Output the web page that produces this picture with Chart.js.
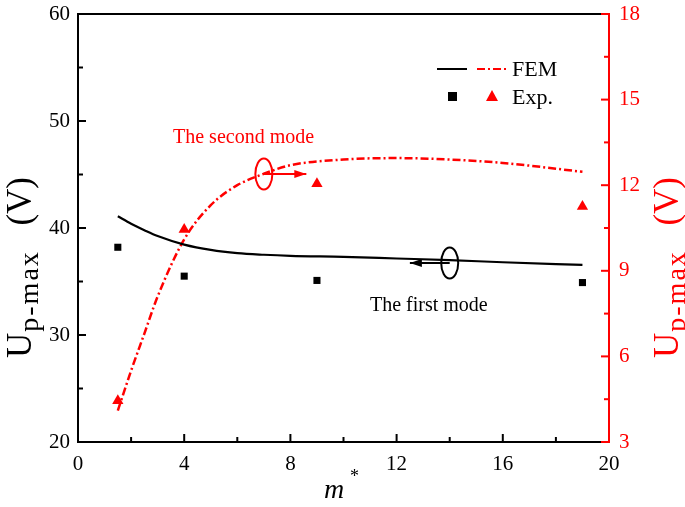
<!DOCTYPE html>
<html>
<head>
<meta charset="utf-8">
<script src="https://cdn.jsdelivr.net/npm/chart.js@4/dist/chart.umd.min.js"></script>
<style>
  html, body { margin: 0; padding: 0; background: #fff; }
  #wrap { width: 685px; height: 507px; position: relative; }
</style>
</head>
<body>
<div id="wrap"><canvas id="chart" width="685" height="507"></canvas></div>
<script>
// FEM curves (m*, voltage)
const xFem = [1.5, 2, 2.5, 3, 4, 5, 6, 7, 8, 10, 12, 14, 16, 19];
const femFirst = [41.1, 40.4, 39.8, 39.25, 38.45, 37.95, 37.65, 37.5, 37.4, 37.3, 37.15, 37.0, 36.8, 36.55];
const femSecond = [4.1, 5.5, 6.8, 8.1, 10.1, 11.3, 12.0, 12.4, 12.7, 12.9, 12.95, 12.9, 12.78, 12.47];

// experiment points
const xExp = [1.5, 4, 9, 19];
const expFirst = [38.2, 35.5, 35.1, 34.9];
const expSecond = [4.45, 10.45, 12.05, 11.25];

// ticks
const xTicks = [0, 4, 8, 12, 16, 20];
const leftTicks = [20, 30, 40, 50, 60];
const rightTicks = [3, 6, 9, 12, 15, 18];

const RED = '#ff0000';
const SERIF = '"Liberation Serif", "DejaVu Serif", serif';

function pts(xs, ys) {
  return xs.map((x, i) => ({ x: x, y: ys[i] }));
}

const decorPlugin = {
  id: 'decor',
  afterDraw(chart) {
    const ctx = chart.ctx;
    const a = chart.chartArea;
    const sx = chart.scales.x, sl = chart.scales.y, sr = chart.scales.y2;
    ctx.save();

    // top frame
    ctx.strokeStyle = '#000';
    ctx.lineWidth = 2;
    ctx.beginPath();
    ctx.moveTo(a.left, a.top);
    ctx.lineTo(a.right, a.top);
    ctx.stroke();

    // inward ticks, major + minor
    function tick(x1, y1, x2, y2, col) {
      ctx.strokeStyle = col;
      ctx.beginPath();
      ctx.moveTo(x1, y1);
      ctx.lineTo(x2, y2);
      ctx.stroke();
    }
    ctx.lineWidth = 2;
    for (let v = 0; v <= 20; v += 2) {
      const px = sx.getPixelForValue(v);
      const len = v % 4 === 0 ? 8 : 5;
      if (v > 0 && v < 20) tick(px, a.bottom, px, a.bottom - len, '#000');
    }
    for (let v = 20; v <= 60; v += 5) {
      const py = sl.getPixelForValue(v);
      const len = v % 10 === 0 ? 8 : 5;
      if (v > 20 && v < 60) tick(a.left, py, a.left + len, py, '#000');
    }
    for (let v = 3; v <= 18; v += 1.5) {
      const py = sr.getPixelForValue(v);
      const len = (v % 3 === 0) ? 8 : 5;
      tick(a.right, py, a.right - len, py, RED);
    }
    tick(a.right - 8, a.bottom, a.right, a.bottom, RED);

    // axis titles (rotated, with subscript)
    function vTitle(cx, bottom, top, col) {
      ctx.save();
      ctx.translate(cx, bottom);
      ctx.rotate(-Math.PI / 2);
      ctx.fillStyle = col;
      ctx.textBaseline = 'alphabetic';
      ctx.textAlign = 'left';
      ctx.font = '35px ' + SERIF;
      ctx.fillText('U', 0, 0);
      const w = ctx.measureText('U').width;
      ctx.font = '28px ' + SERIF;
      ctx.letterSpacing = '2px';
      ctx.fillText('p-max', w + 1, 7);
      ctx.letterSpacing = '0px';
      ctx.font = '35px ' + SERIF;
      ctx.textAlign = 'right';
      ctx.fillText('(V)', bottom - top, 0);
      ctx.restore();
    }
    vTitle(31, 358, 177, '#000');
    vTitle(678, 358, 177, RED);

    ctx.fillStyle = '#000';
    ctx.textAlign = 'left';
    ctx.textBaseline = 'alphabetic';
    ctx.font = 'italic 28px ' + SERIF;
    ctx.fillText('m', 324, 498);
    ctx.font = '18px ' + SERIF;
    ctx.fillText('*', 350, 482);

    // legend
    ctx.lineWidth = 2;
    tick(437, 69, 467, 69, '#000');
    ctx.setLineDash([8, 3, 2, 3]);
    tick(477, 69, 507, 69, RED);
    ctx.setLineDash([]);
    ctx.fillStyle = '#000';
    ctx.fillRect(448, 92, 9, 9);
    ctx.fillStyle = RED;
    ctx.beginPath();
    ctx.moveTo(492, 90);
    ctx.lineTo(498, 101);
    ctx.lineTo(486, 101);
    ctx.closePath();
    ctx.fill();
    ctx.fillStyle = '#000';
    ctx.font = '22px ' + SERIF;
    ctx.fillText('FEM', 512, 76);
    ctx.fillText('Exp.', 512, 104);

    // mode annotations
    function marker(cx, cy, tipX, col) {
      ctx.strokeStyle = col;
      ctx.fillStyle = col;
      ctx.lineWidth = 2;
      ctx.beginPath();
      ctx.ellipse(cx, cy, 8.5, 15.5, 0, 0, Math.PI * 2);
      ctx.stroke();
      ctx.beginPath();
      ctx.moveTo(cx, cy);
      ctx.lineTo(tipX, cy);
      ctx.stroke();
      const d = tipX > cx ? 1 : -1;
      ctx.beginPath();
      ctx.moveTo(tipX, cy);
      ctx.lineTo(tipX - d * 12, cy - 4);
      ctx.lineTo(tipX - d * 12, cy + 4);
      ctx.closePath();
      ctx.fill();
    }
    marker(sx.getPixelForValue(7), 174, sx.getPixelForValue(8.6), RED);
    marker(sx.getPixelForValue(14), 263, sx.getPixelForValue(12.5), '#000');

    ctx.font = '20px ' + SERIF;
    ctx.fillStyle = RED;
    ctx.fillText('The second mode', 173, 143);
    ctx.fillStyle = '#000';
    ctx.fillText('The first mode', 370, 311);

    ctx.restore();
  }
};

new Chart(document.getElementById('chart'), {
  type: 'scatter',
  data: {
    datasets: [
      {
        label: 'FEM first',
        data: pts(xFem, femFirst),
        yAxisID: 'y',
        showLine: true,
        borderColor: '#000',
        borderWidth: 2.2,
        pointRadius: 0,
        cubicInterpolationMode: 'monotone'
      },
      {
        label: 'FEM second',
        data: pts(xFem, femSecond),
        yAxisID: 'y2',
        showLine: true,
        borderColor: RED,
        borderWidth: 2.5,
        borderDash: [8, 3, 2, 3],
        pointRadius: 0,
        cubicInterpolationMode: 'monotone'
      },
      {
        label: 'Exp first',
        data: pts(xExp, expFirst),
        yAxisID: 'y',
        pointStyle: 'rect',
        pointRadius: 5,
        backgroundColor: '#000',
        borderColor: '#000',
        borderWidth: 0
      },
      {
        label: 'Exp second',
        data: pts(xExp, expSecond),
        yAxisID: 'y2',
        pointStyle: 'triangle',
        pointRadius: 6.5,
        backgroundColor: RED,
        borderColor: RED,
        borderWidth: 0
      }
    ]
  },
  options: {
    responsive: false,
    animation: false,
    layout: { padding: { top: 14, left: 0, right: 0, bottom: 0 } },
    plugins: { legend: { display: false }, tooltip: { enabled: false } },
    scales: {
      x: {
        type: 'linear',
        min: 0, max: 20,
        afterBuildTicks: s => { s.ticks = xTicks.map(v => ({ value: v })); },
        afterFit: s => { s.height = 65; s.paddingLeft = 0; s.paddingRight = 0; },
        grid: { display: false, drawTicks: false },
        border: { display: true, color: '#000', width: 2 },
        ticks: { color: '#000', padding: 10, font: { family: SERIF, size: 21 }, maxRotation: 0 }
      },
      y: {
        position: 'left',
        min: 20, max: 60,
        afterBuildTicks: s => { s.ticks = leftTicks.map(v => ({ value: v })); },
        afterFit: s => { s.width = 78; s.paddingTop = 0; s.paddingBottom = 0; },
        grid: { display: false, drawTicks: false },
        border: { display: true, color: '#000', width: 2 },
        ticks: { color: '#000', padding: 8, font: { family: SERIF, size: 21 } }
      },
      y2: {
        position: 'right',
        min: 3, max: 18,
        afterBuildTicks: s => { s.ticks = rightTicks.map(v => ({ value: v })); },
        afterFit: s => { s.width = 76; s.paddingTop = 0; s.paddingBottom = 0; },
        grid: { display: false, drawTicks: false },
        border: { display: true, color: RED, width: 2 },
        ticks: { color: RED, padding: 10, font: { family: SERIF, size: 21 } }
      }
    }
  },
  plugins: [decorPlugin]
});
</script>
</body>
</html>
